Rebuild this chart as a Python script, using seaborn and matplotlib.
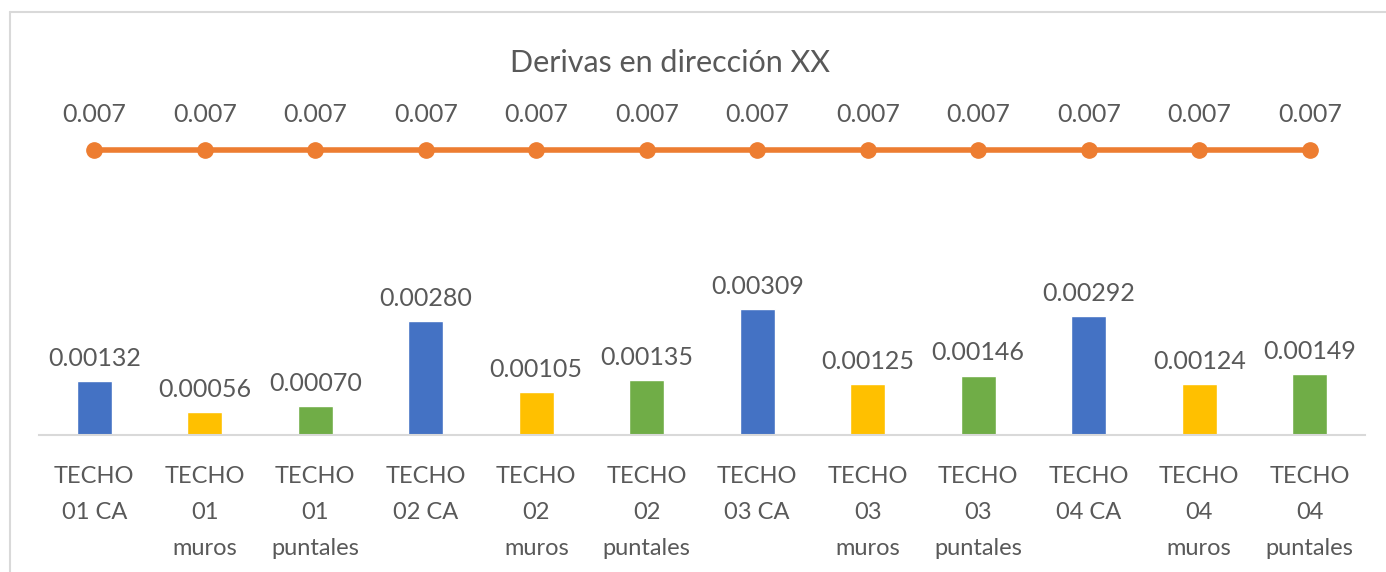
import matplotlib.pyplot as plt
import seaborn as sns

# datos del gráfico
categorias = ["TECHO\n01 CA", "TECHO\n01\nmuros", "TECHO\n01\npuntales",
              "TECHO\n02 CA", "TECHO\n02\nmuros", "TECHO\n02\npuntales",
              "TECHO\n03 CA", "TECHO\n03\nmuros", "TECHO\n03\npuntales",
              "TECHO\n04 CA", "TECHO\n04\nmuros", "TECHO\n04\npuntales"]
derivas = [0.00132, 0.00056, 0.00070, 0.00280, 0.00105, 0.00135,
           0.00309, 0.00125, 0.00146, 0.00292, 0.00124, 0.00149]
limite = [0.007] * 12
colores = ["#4472C4", "#FFC000", "#70AD47"] * 4

sns.set_theme(style="white")
plt.rcParams['font.family'] = ['Lato', 'DejaVu Sans']
gris = "#595959"

fig = plt.figure(figsize=(13.86, 5.72), dpi=100)
ax = fig.add_axes([39 / 1386, 137 / 572, 1326 / 1386, 326 / 572])

# barras
sns.barplot(x=categorias, y=derivas, hue=categorias, palette=colores,
            legend=False, width=0.32, saturation=1, ax=ax)

# línea límite
ax.plot(range(len(limite)), limite, color="#ED7D31", lw=4, marker="o",
        markersize=11, zorder=5)

for i, v in enumerate(derivas):
    ax.annotate(f"{v:.5f}", (i, v), xytext=(0, 8), textcoords="offset points",
                ha="center", va="bottom", fontsize=18, color=gris)
for i, v in enumerate(limite):
    ax.annotate(f"{v:.3f}", (i, v), xytext=(0, 17), textcoords="offset points",
                ha="center", va="bottom", fontsize=18, color=gris)

ax.set_ylim(0, 0.008)
ax.set_xlim(-0.5, 11.5)
ax.set_yticks([])
ax.tick_params(axis="x", length=0, pad=22, labelsize=17, labelcolor=gris)
for t in ax.get_xticklabels():
    t.set_linespacing(1.9)
for s in ["top", "right", "left"]:
    ax.spines[s].set_visible(False)
ax.spines["bottom"].set_color("#D9D9D9")
ax.spines["bottom"].set_linewidth(1.5)

fig.text(670 / 1386, 1 - 63 / 572, "Derivas en dirección XX", ha="center",
         va="center", fontsize=22, color=gris)

# borde del área del gráfico (recortado)
fig.add_artist(plt.Line2D([10 / 1386, 10 / 1386], [0, 1 - 12 / 572],
                          color="#D9D9D9", lw=1.5))
fig.add_artist(plt.Line2D([10 / 1386, 1], [1 - 12 / 572, 1 - 12 / 572],
                          color="#D9D9D9", lw=1.5))

fig.savefig("out.png", dpi=100)
